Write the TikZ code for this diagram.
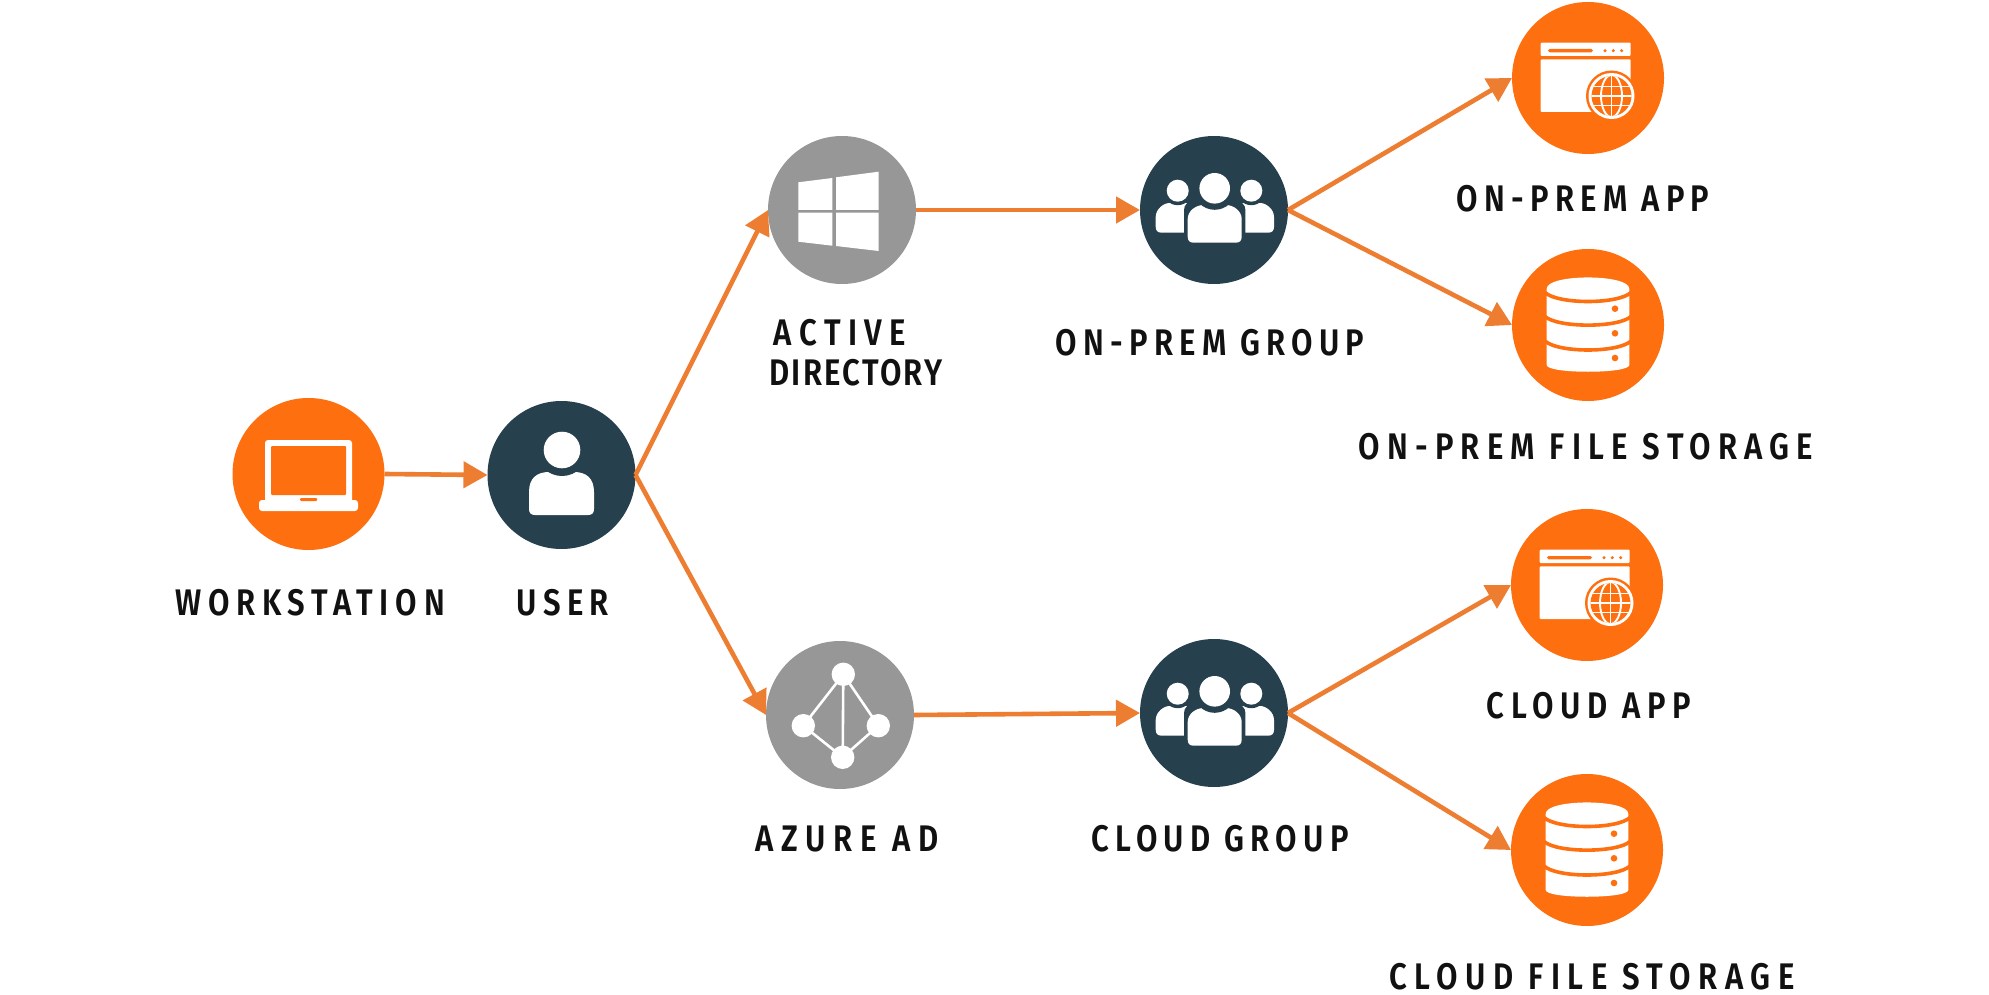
\documentclass[tikz,border=0pt]{standalone}
\usepackage{fontspec}
\usetikzlibrary{arrows.meta}
\newfontfamily\labfont[FakeStretch=0.84,UprightFont={* SemiBold}]{Fira Sans}
\definecolor{orangeC}{HTML}{FD6F0F}
\definecolor{darkC}{HTML}{27404E}
\definecolor{grayC}{HTML}{979797}
\definecolor{arrowC}{HTML}{ED7D31}
\definecolor{textC}{HTML}{111111}
\tikzset{
  disc/.style={circle,inner sep=0pt,outer sep=0pt,minimum size=#1},
  orangedisc/.style={disc=152pt,fill=orangeC},
  darkdisc/.style={disc=148pt,fill=darkC},
  graydisc/.style={disc=148pt,fill=grayC},
  link/.style={draw=arrowC,line width=4.6pt,-{Triangle[length=24pt,width=26pt]}},
  lab/.style={anchor=base,inner sep=0pt,text=textC,font=\labfont\addfontfeature{LetterSpace=#1}\fontsize{37}{37}\selectfont,align=center},
  lab/.default=17
}
\newcommand{\personbody}[6]{% x0 x1 ytop ybot
  \fill[white] (#1+6,#4) .. controls (#1+2,#4) and (#1,#4-2) .. (#1,#4-6) -- (#1,#3+#5)
   .. controls (#1,#3+6) and (#1+8,#3) .. (#1+#6,#3) -- (#2-#6,#3)
   .. controls (#2-8,#3) and (#2,#3+6) .. (#2,#3+#5) -- (#2,#4-6)
   .. controls (#2,#4-2) and (#2-2,#4) .. (#2-6,#4) -- cycle;
}
\newcommand{\usericon}{
  \personbody{-32.5}{32.5}{-3}{40}{20}{20}
  \fill[darkC] (0.5,-25) circle (26);
  \fill[white] (0.5,-25) circle (18.3);
}
\newcommand{\groupicon}{
  \personbody{-58.3}{-15}{-7}{22.7}{14}{14}
  \personbody{16}{60}{-7}{22.7}{14}{14}
  \fill[darkC] (-36.3,-19.3) circle (14.5);
  \fill[darkC] (37.3,-19.3) circle (14.5);
  \fill[white] (-36.3,-19.3) circle (11);
  \fill[white] (37.3,-19.3) circle (11);
  \fill[darkC,rounded corners=9pt] (-30,-9) rectangle (31.4,36);
  \personbody{-26.3}{27.7}{-5}{32.7}{14}{16}
  \fill[darkC] (0.7,-21.7) circle (21.5);
  \fill[white] (0.7,-21.7) circle (15.3);
}
\newcommand{\appicon}{
  \fill[white,rounded corners=1pt] (-47.3,-35.3) rectangle (42.7,-22);
  \fill[white,rounded corners=1pt] (-47.3,-18.7) rectangle (42.7,34);
  \fill[orangeC,rounded corners=1.6pt] (-40,-29) rectangle (5,-25.7);
  \foreach \dx in {17,25.3,33.7} \fill[orangeC] (\dx,-27.3) circle (1.7);
  \fill[orangeC] (23.5,18) circle (25.5);
  \fill[white] (23.5,18) circle (23);
  \fill[orangeC] (23.5,18) circle (20);
  \begin{scope}
    \clip (23.5,18) circle (20);
    \draw[white,line width=1.9pt] (23.5,-3) -- (23.5,39)
      (2,18) -- (45,18) (2,8.5) -- (45,8.5) (2,27.5) -- (45,27.5);
    \draw[white,line width=1.9pt] (23.5,18) ellipse (10.5 and 21);
  \end{scope}
}
\newcommand{\dbicon}{
  \fill[white] (-41.3,-36.3) .. controls (-41.3,-51.3) and (41.3,-51.3) .. (41.3,-36.3)
    -- (41.3,40) .. controls (41.3,49) and (-41.3,49) .. (-41.3,40) -- cycle;
  \draw[orangeC,line width=3.6pt] (-43,-32.5) .. controls (-30,-20.5) and (30,-20.5) .. (43,-32.5);
  \draw[orangeC,line width=3.6pt] (-43,-8.5) .. controls (-30,3) and (30,3) .. (43,-8.5);
  \draw[orangeC,line width=3.6pt] (-43,16) .. controls (-30,28) and (30,28) .. (43,16);
  \foreach \dy in {-16.3,8.3,33} \fill[orangeC] (27,\dy) circle (3.3);
}
\begin{document}
\begin{tikzpicture}[x=1pt,y=-1pt]
\useasboundingbox (0,0) rectangle (1989,995);
\fill[white] (0,0) rectangle (1989,995);
% discs
\node[orangedisc] (work) at (308.5,474) {};
\node[darkdisc] (user) at (561.5,475) {};
\node[graydisc] (ad) at (842,210) {};
\node[graydisc] (azure) at (840,715) {};
\node[darkdisc] (opg) at (1214,210) {};
\node[darkdisc] (cg) at (1214,713) {};
\node[orangedisc] (oapp) at (1588,78) {};
\node[orangedisc] (ofile) at (1588,325) {};
\node[orangedisc] (capp) at (1587,585) {};
\node[orangedisc] (cfile) at (1587,850) {};
% connectors
\draw[link] (work.east) -- (user.west);
\draw[link] (user.east) -- (ad.west);
\draw[link] (user.east) -- (azure.west);
\draw[link] (ad.east) -- (opg.west);
\draw[link] (azure.east) -- (cg.west);
\draw[link] (opg.east) -- (oapp.west);
\draw[link] (opg.east) -- (ofile.west);
\draw[link] (cg.east) -- (capp.west);
\draw[link] (cg.east) -- (cfile.west);
% laptop
\begin{scope}[shift={(work.center)}]
  \fill[white,rounded corners=3pt] (-43.5,-34) rectangle (43.5,30);
  \fill[orangeC,rounded corners=1pt] (-37.5,-28) rectangle (37.5,21);
  \fill[white,rounded corners=3pt] (-49.5,26) -- (49.5,26) -- (49.5,37) -- (-49.5,37) -- cycle;
  \fill[orangeC,rounded corners=1pt] (-8.5,24) rectangle (8.5,27);
\end{scope}
\begin{scope}[shift={(user.center)}]\usericon\end{scope}
% windows logo
\begin{scope}
  \fill[white] (798.3,182.3) -- (832.3,178) -- (832.3,210) -- (798.3,210) -- cycle;
  \fill[white] (798.3,212.7) -- (832.3,212.7) -- (832.3,245.7) -- (798.3,241.7) -- cycle;
  \fill[white] (836,177.3) -- (878.7,171.7) -- (878.7,210) -- (836,210) -- cycle;
  \fill[white] (836,212.7) -- (878.7,212.7) -- (878.7,251) -- (836,246) -- cycle;
\end{scope}
% azure logo
\begin{scope}
  \draw[white,line width=2.6pt] (843.3,674.3) -- (803.3,725.7) -- (842.7,757.3) -- (878.3,725.7) -- cycle
     (843.3,674.3) -- (842.7,757.3);
  \fill[white] (843.3,674.3) circle (11.7) (803.3,725.7) circle (11.7)
     (878.3,725.7) circle (11.7) (842.7,757.3) circle (11.7);
\end{scope}
\begin{scope}[shift={(opg.center)}]\groupicon\end{scope}
\begin{scope}[shift={(cg.center)}]\groupicon\end{scope}
\begin{scope}[shift={(oapp.center)}]\appicon\end{scope}
\begin{scope}[shift={(capp.center)}]\appicon\end{scope}
\begin{scope}[shift={(ofile.center)}]\dbicon\end{scope}
\begin{scope}[shift={(cfile.center)}]\dbicon\end{scope}
% labels
\node[lab=18.2] (lwork) at (310,615) {WORKSTATION};
\node[lab] (luser) at (563,615) {USER};
\node[lab=20] (lad1) at (840,345) {ACTIVE};
\node[lab=6] (lad2) at (856,385) {DIRECTORY};
\node[lab] (lopg) at (1210,355) {ON-PREM GROUP};
\node[lab] (loapp) at (1583,212) {ON-PREM APP};
\node[lab=19.5] (lofile) at (1586,459) {ON-PREM FILE STORAGE};
\node[lab=18.5] (lcapp) at (1589,718) {CLOUD APP};
\node[lab=20.7] (lazure) at (847,851) {AZURE AD};
\node[lab] (lcg) at (1220,851) {CLOUD GROUP};
\node[lab=20.2] (lcfile) at (1592,989) {CLOUD FILE STORAGE};
\end{tikzpicture}
\end{document}
